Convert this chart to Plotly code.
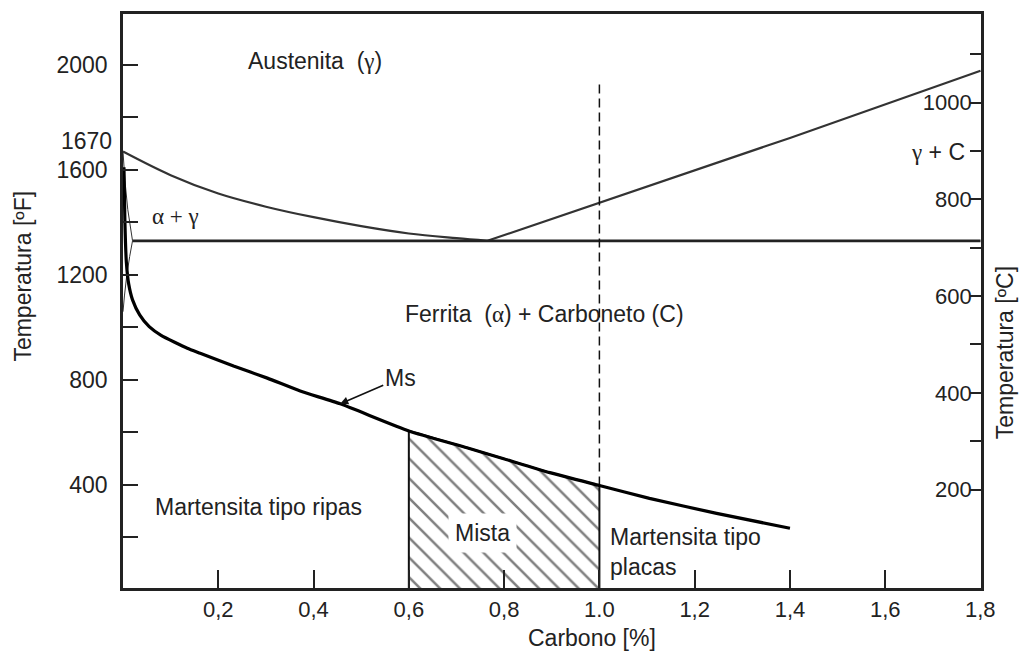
import plotly.graph_objects as go

# ---------------- data ----------------
# Ms curve (martensite start), carbon %, temperature degF
ms_carbon = [0.002, 0.004, 0.007, 0.012, 0.020, 0.035, 0.055, 0.080, 0.135, 0.162, 0.232,
             0.303, 0.372, 0.456, 0.600, 0.722, 0.799, 0.896, 1.000, 1.105, 1.246, 1.400]
ms_temp_F = [1610, 1400, 1250, 1165, 1105, 1048, 1003, 970, 921, 902, 853,
             807, 758, 709, 606, 542, 500, 447, 398, 349, 292, 235]

# A3 line (austenite / ferrite+austenite)
a3_carbon = [0.0, 0.1, 0.2, 0.3, 0.4, 0.5, 0.6, 0.7, 0.765]
a3_temp_F = [1670, 1580, 1510, 1460, 1420, 1386, 1358, 1340, 1330]

# Acm line (austenite / austenite + carbide)
acm_carbon = [0.765, 1.0, 1.4, 1.8]
acm_temp_F = [1330, 1475, 1722, 1978]

# A1 eutectoid line
a1_carbon = [0.02, 1.8]
a1_temp_F = [1330, 1330]

# alpha / alpha+gamma boundary and ferrite solvus near 0 %C
ag_carbon = [0.0, 0.004, 0.010, 0.016, 0.020, 0.014, 0.008, 0.003, 0.0]
ag_temp_F = [1670, 1560, 1450, 1370, 1330, 1270, 1200, 1120, 1060]

# mixed martensite zone limits and the dashed 1.0 %C line
mixed_limits = [0.6, 1.0]
dashed_carbon = [1.0, 1.0]
dashed_temp_F = [398, 1940]

# axis ticks
x_tickvals = [0.2, 0.4, 0.6, 0.8, 1.0, 1.2, 1.4, 1.6, 1.8]
x_ticktext = ["0,2", "0,4", "0,6", "0,8", "1.0", "1,2", "1,4", "1,6", "1,8"]
f_tickvals = [200, 400, 600, 800, 1000, 1200, 1400, 1600, 1800, 2000]
f_ticktext = ["", "400", "", "800", "", "1200", "", "1600", "", "2000"]
c_tickvals = [200, 300, 400, 500, 600, 700, 800, 900, 1000, 1100]
c_ticktext = ["200", "", "400", "", "600", "", "800", "", "1000", ""]

FONT = "Liberation Sans, Arial, sans-serif"
SERIF = "Liberation Serif"
TXT = "#222222"
FS = 23

fig = go.Figure()

# hatched "Mista" region under Ms between 0.6 and 1.0 %C
lo, hi = mixed_limits
hx = [lo] + [c for c in ms_carbon if lo <= c <= hi] + [hi]
hy = [0] + [t for c, t in zip(ms_carbon, ms_temp_F) if lo <= c <= hi] + [0]
fig.add_trace(go.Scatter(
    x=hx, y=hy, mode="lines", fill="toself",
    fillcolor="white",
    fillpattern=dict(shape="\\", fgcolor="#000000", bgcolor="white", size=14, solidity=0.18),
    line=dict(color="#111111", width=2), hoverinfo="skip", showlegend=False))

# lines
fig.add_trace(go.Scatter(x=a3_carbon, y=a3_temp_F, mode="lines",
                         line=dict(color="#333333", width=2.2, shape="spline", smoothing=1),
                         showlegend=False))
fig.add_trace(go.Scatter(x=acm_carbon, y=acm_temp_F, mode="lines",
                         line=dict(color="#333333", width=2.2), showlegend=False))
fig.add_trace(go.Scatter(x=a1_carbon, y=a1_temp_F, mode="lines",
                         line=dict(color="#222222", width=2.6), showlegend=False))
fig.add_trace(go.Scatter(x=ag_carbon, y=ag_temp_F, mode="lines",
                         line=dict(color="#333333", width=1.0), showlegend=False))
fig.add_trace(go.Scatter(x=dashed_carbon, y=dashed_temp_F, mode="lines",
                         line=dict(color="#111111", width=1.5, dash="9px,5px"), showlegend=False))
fig.add_trace(go.Scatter(x=ms_carbon, y=ms_temp_F, mode="lines",
                         line=dict(color="#000000", width=3.2, shape="spline", smoothing=0.5),
                         showlegend=False))

# invisible trace to activate right axis
fig.add_trace(go.Scatter(x=[0], y=[0], yaxis="y2", mode="markers",
                         marker=dict(opacity=0), hoverinfo="skip", showlegend=False))

F_RANGE = [7.6, 2194]
C_RANGE = [-3.4, 1183]

fig.update_layout(
    width=1021, height=653,
    margin=dict(l=123, r=40, t=11, b=65),
    paper_bgcolor="white", plot_bgcolor="white",
    font=dict(family=FONT, size=FS, color=TXT),
    xaxis=dict(range=[0, 1.801], tickvals=x_tickvals[:-1], ticktext=x_ticktext[:-1],
               ticks="inside", ticklen=18, tickwidth=2, tickcolor="#222",
               showline=True, linecolor="#222", linewidth=2.5, mirror=True,
               showgrid=False, zeroline=False, ticklabelstandoff=0,
               tickfont=dict(size=FS - 1, color=TXT)),
    yaxis=dict(range=F_RANGE, tickvals=f_tickvals, ticktext=f_ticktext,
               ticks="inside", ticklen=15, tickwidth=2, tickcolor="#222",
               showline=True, linecolor="#222", linewidth=2.5,
               showgrid=False, zeroline=False, ticklabelstandoff=8,
               tickfont=dict(size=FS, color=TXT)),
    yaxis2=dict(range=C_RANGE, overlaying="y", side="right",
                tickvals=c_tickvals, ticktext=c_ticktext,
                ticks="inside", ticklen=11, tickwidth=2, tickcolor="#222",
                ticklabelposition="inside",
                showline=True, linecolor="#222", linewidth=2.5,
                showgrid=False, zeroline=False,
                tickfont=dict(size=FS - 1, color=TXT)),
)

def ann(x, y, text, **kw):
    d = dict(x=x, y=y, text=text, showarrow=False, font=dict(family=FONT, size=FS, color=TXT))
    d.update(kw)
    fig.add_annotation(**d)

g = f'<span style="font-family:{SERIF}">γ</span>'
a = f'<span style="font-family:{SERIF}">α</span>'

ann(0.403, 2016, f"Austenita  ({g})")
ann(0.11, 1421, f'<span style="font-family:{SERIF}">α + γ</span>')
ann(1.711, 1667, f"{g} + C")
ann(0.885, 1050, f"Ferrita  ({a}) + Carboneto (C)")
ann(0.284, 318, "Martensita tipo ripas")
ann(0.755, 216, "Mista", bgcolor="white", borderpad=6)
ann(1.018, 144, "Martensita tipo<br>placas", xanchor="left", align="left")
# last x tick label at the frame edge
fig.add_annotation(xref="x", yref="paper", x=x_tickvals[-1], y=0, yshift=-21,
                   text=x_ticktext[-1], showarrow=False, xanchor="center", yanchor="middle",
                   font=dict(family=FONT, size=FS - 1, color=TXT))
# Ms label with leader
fig.add_annotation(x=0.456, y=709, text="Ms", showarrow=True, ax=60, ay=-26,
                   arrowhead=2, arrowsize=1, arrowwidth=1.6, arrowcolor="#111",
                   font=dict(family=FONT, size=FS, color=TXT))
# extra 1670 label on the F axis
fig.add_annotation(xref="paper", x=0, y=1670, text="1670", showarrow=False,
                   xanchor="right", xshift=-9, yshift=11,
                   font=dict(family=FONT, size=FS, color=TXT))
# axis titles
fig.add_annotation(xref="x", yref="paper", x=0.984, y=0, yshift=-50, text="Carbono [%]",
                   showarrow=False, xanchor="center", yanchor="middle",
                   font=dict(family=FONT, size=FS, color=TXT))
fig.add_annotation(xref="paper", yref="paper", x=0, xshift=-100, y=0.5425,
                   text="Temperatura [ºF]", textangle=-90, showarrow=False,
                   xanchor="center", yanchor="middle",
                   font=dict(family=FONT, size=FS, color=TXT))
fig.add_annotation(xref="paper", yref="paper", x=1, xshift=24, y=0.409,
                   text="Temperatura [ºC]", textangle=-90, showarrow=False,
                   xanchor="center", yanchor="middle",
                   font=dict(family=FONT, size=FS, color=TXT))

fig.write_html("out.html")
